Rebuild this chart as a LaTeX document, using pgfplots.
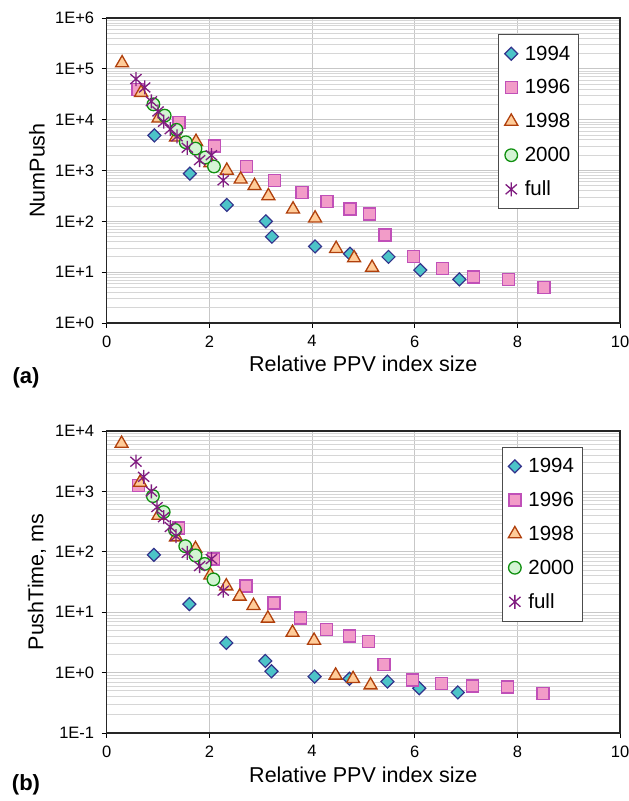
\documentclass[border=0pt]{standalone}
\usepackage{pgfplots}
\pgfplotsset{compat=1.18}
\usepackage{fontspec}
\setmainfont{Liberation Sans}
\definecolor{dfill}{HTML}{4CC4C8}
\definecolor{ddraw}{HTML}{33338C}
\definecolor{sfill}{HTML}{F29CC8}
\definecolor{sdraw}{HTML}{C050B8}
\definecolor{tfill}{HTML}{FFCC99}
\definecolor{tdraw}{HTML}{B0400C}
\definecolor{cfill}{HTML}{D4F4D4}
\definecolor{cdraw}{HTML}{109010}
\definecolor{stdraw}{HTML}{801C80}
\pgfdeclareplotmark{xstar}{%
  \pgfpathmoveto{\pgfqpoint{0pt}{\pgfplotmarksize}}%
  \pgfpathlineto{\pgfqpoint{0pt}{-\pgfplotmarksize}}%
  \pgfpathmoveto{\pgfqpoint{-.8\pgfplotmarksize}{.7\pgfplotmarksize}}%
  \pgfpathlineto{\pgfqpoint{.8\pgfplotmarksize}{-.7\pgfplotmarksize}}%
  \pgfpathmoveto{\pgfqpoint{-.8\pgfplotmarksize}{-.7\pgfplotmarksize}}%
  \pgfpathlineto{\pgfqpoint{.8\pgfplotmarksize}{.7\pgfplotmarksize}}%
  \pgfusepathqstroke}
\tikzset{labfont/.style={font=\fontsize{21.5}{23}\selectfont}}
\pgfplotsset{
  mystyle/.style={
    scale only axis, width=513.3pt,
    xmin=0, xmax=10, xtick={0,2,4,6,8,10},
    xtick pos=left, ytick pos=left,
    tick align=outside, major tick length=5pt, minor tick length=0pt,
    xmajorgrids, ymajorgrids, yminorgrids,
    major grid style={draw=black!22, line width=0.8pt},
    minor grid style={draw=black!16, line width=0.8pt},
    axis line style={line width=1.3pt, black!85},
    every tick/.style={black, line width=0.8pt},
    ticklabel style={font=\fontsize{16.5}{18}\selectfont},
    xticklabel style={yshift=-4pt},
    yticklabel style={xshift=-4pt},
    /pgf/number format/assume math mode=true,
    legend style={font=\fontsize{20.5}{22}\selectfont, draw=black!70, line width=0.8pt,
      anchor=north west, row sep=14pt, inner xsep=6pt, inner ysep=9pt},
    legend cell align=left,
    clip=false,
  },
  s1994/.style={only marks, mark=square*, mark size=4.6pt, mark options={rotate=45, fill=dfill, draw=ddraw, line width=1.2pt}},
  s1996/.style={only marks, mark=square*, mark size=6pt, mark options={fill=sfill, draw=sdraw, line width=1.5pt}},
  s1998/.style={only marks, mark=triangle*, mark size=7.5pt, mark options={fill=tfill, draw=tdraw, line width=1.3pt}},
  s2000/.style={only marks, mark=*, mark size=6.3pt, mark options={fill=cfill, draw=cdraw, line width=1.3pt}},
  sfull/.style={only marks, mark=xstar, mark size=7pt, mark options={draw=stdraw, line width=1.3pt}},
}
\begin{document}
\begin{tikzpicture}
\useasboundingbox (0,0) rectangle (629pt,801pt);
\begin{axis}[ymode=log, mystyle, at={(106.7pt,478pt)}, anchor=south west, height=305pt,
  ymin=1, ymax=1e6, ytick={1,10,100,1000,10000,100000,1000000},
  minor ytick={2,3,4,5,6,7,8,9,20,30,40,50,60,70,80,90,200,300,400,500,600,700,800,900,2000,3000,4000,5000,6000,7000,8000,9000,2e4,3e4,4e4,5e4,6e4,7e4,8e4,9e4,2e5,3e5,4e5,5e5,6e5,7e5,8e5,9e5},
  yticklabels={1E+0,1E+1,1E+2,1E+3,1E+4,1E+5,1E+6},
  xlabel={Relative PPV index size}, ylabel={NumPush},
  every axis x label/.style={at={(axis description cs:0.5,-0.135)}, anchor=center, labfont},
  every axis y label/.style={at={(axis description cs:-0.136,0.5)}, anchor=center, rotate=90, labfont},
  legend style={at={(axis description cs:0.763,0.946)}}]
\addplot[s1994] coordinates {(0.93,4900) (1.62,870) (2.34,210) (3.10,100) (3.22,50) (4.06,32) (4.74,23) (5.49,20) (6.11,11) (6.87,7.2)};
\addlegendentry{\hspace{5pt}1994\hspace{13pt}}
\addplot[s1996] coordinates {(0.61,39000) (1.41,8700) (2.10,3000) (2.72,1200) (3.27,630) (3.80,370) (4.29,245) (4.74,175) (5.12,140) (5.42,54) (5.98,20.5) (6.54,11.8) (7.15,8.1) (7.83,7.1) (8.52,5.0)};
\addlegendentry{\hspace{5pt}1996}
\addplot[s1998] coordinates {(0.30,130000) (0.67,34000) (1.01,10700) (1.35,4500) (1.74,3700) (2.02,1400) (2.34,1000) (2.61,670) (2.88,500) (3.15,316) (3.63,173) (4.06,115) (4.47,29) (4.82,19) (5.17,12.3)};
\addlegendentry{\hspace{5pt}1998}
\addplot[s2000] coordinates {(0.91,20000) (1.13,12000) (1.36,6300) (1.54,3600) (1.73,2700) (1.92,1800) (2.09,1200)};
\addlegendentry{\hspace{5pt}2000}
\addplot[sfull] coordinates {(0.57,63000) (0.74,43000) (0.87,23000) (1.00,14500) (1.11,9100) (1.24,6500) (1.37,4700) (1.57,2800) (1.81,1600) (2.04,2000) (2.27,640)};
\addlegendentry{\hspace{5pt}full}
\end{axis}
\node[font=\bfseries\fontsize{22}{24}\selectfont] at (26pt,423pt) {(a)};
\begin{axis}[ymode=log, mystyle, at={(106.7pt,68pt)}, anchor=south west, height=302pt,
  ymin=0.1, ymax=1e4, ytick={0.1,1,10,100,1000,10000},
  minor ytick={0.2,0.3,0.4,0.5,0.6,0.7,0.8,0.9,2,3,4,5,6,7,8,9,20,30,40,50,60,70,80,90,200,300,400,500,600,700,800,900,2000,3000,4000,5000,6000,7000,8000,9000},
  yticklabels={1E-1,1E+0,1E+1,1E+2,1E+3,1E+4},
  xlabel={Relative PPV index size}, ylabel={PushTime, ms},
  every axis x label/.style={at={(axis description cs:0.5,-0.14)}, anchor=center, labfont},
  every axis y label/.style={at={(axis description cs:-0.136,0.5)}, anchor=center, rotate=90, labfont},
  legend style={at={(axis description cs:0.770,0.947)}}]
\addplot[s1994] coordinates {(0.92,89) (1.61,13.6) (2.33,3.1) (3.09,1.56) (3.21,1.05) (4.05,0.86) (4.73,0.79) (5.47,0.71) (6.09,0.55) (6.84,0.47)};
\addlegendentry{\hspace{5pt}1994\hspace{13pt}}
\addplot[s1996] coordinates {(0.62,1260) (1.40,250) (2.08,76) (2.71,27) (3.26,14.2) (3.78,8.0) (4.28,5.2) (4.73,4.0) (5.10,3.3) (5.40,1.36) (5.96,0.75) (6.52,0.66) (7.13,0.60) (7.81,0.58) (8.50,0.45)};
\addlegendentry{\hspace{5pt}1996}
\addplot[s1998] coordinates {(0.29,6200) (0.65,1400) (1.01,400) (1.35,175) (1.73,112) (2.02,41) (2.33,27) (2.59,18.3) (2.86,12.8) (3.14,7.9) (3.62,4.6) (4.04,3.4) (4.46,0.90) (4.80,0.79) (5.14,0.62)};
\addlegendentry{\hspace{5pt}1998}
\addplot[s2000] coordinates {(0.90,835) (1.11,455) (1.33,230) (1.53,124) (1.73,87) (1.91,63) (2.08,35)};
\addlegendentry{\hspace{5pt}2000}
\addplot[sfull] coordinates {(0.57,3100) (0.72,1740) (0.87,1000) (0.98,550) (1.11,375) (1.24,257) (1.35,182) (1.57,96) (1.81,58) (2.04,76) (2.27,22.7)};
\addlegendentry{\hspace{5pt}full}
\end{axis}
\node[font=\bfseries\fontsize{22}{24}\selectfont] at (26pt,16pt) {(b)};
\end{tikzpicture}
\end{document}
